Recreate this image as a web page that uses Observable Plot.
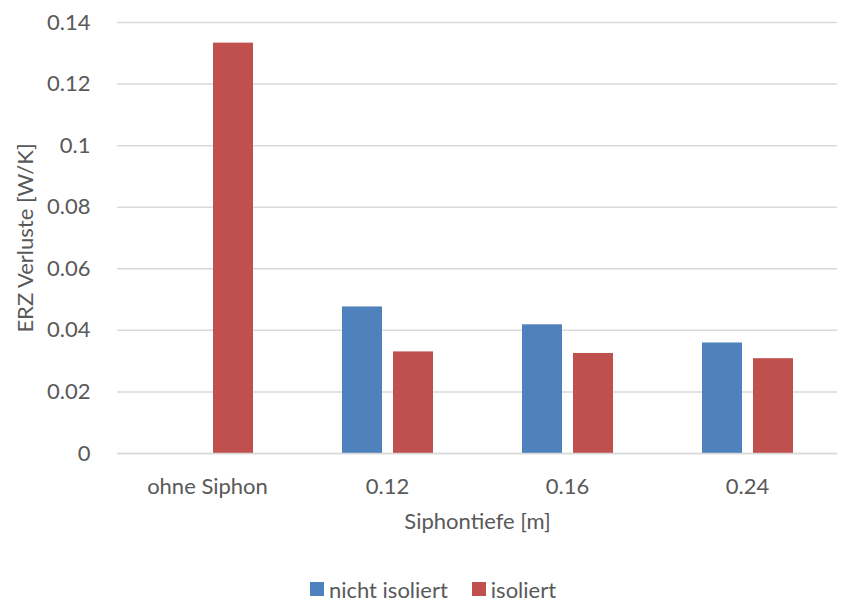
<!DOCTYPE html>
<html>
<head>
<meta charset="utf-8">
<script src="https://cdn.jsdelivr.net/npm/d3@7"></script>
<script src="https://cdn.jsdelivr.net/npm/@observablehq/plot@0.6"></script>
<style>
  body { margin: 0; background: #fff; font-family: Lato, sans-serif; }
  #legend { display: flex; justify-content: center; align-items: center; gap: 24px; height: 34px; font-size: 22px; color: #595959; padding-left: 22px; }
  #legend .item { display: flex; align-items: center; gap: 5px; }
  #legend .sw { width: 14px; height: 14px; display: inline-block; }
</style>
</head>
<body>
<div id="chart"></div>
<div id="legend"></div>
<script>
const categories = ["ohne Siphon", "0.12", "0.16", "0.24"];
const seriesNames = ["nicht isoliert", "isoliert"];
const nichtIsoliert = [null, 0.0476, 0.0418, 0.0359];
const isoliert = [0.1333, 0.0330, 0.0325, 0.0308];
const seriesColors = ["#4F81BD", "#C0504D"];
const yTicks = [0, 0.02, 0.04, 0.06, 0.08, 0.1, 0.12, 0.14];

const rows = [];
categories.forEach((c, i) => {
  if (nichtIsoliert[i] != null) rows.push({cat: c, series: seriesNames[0], value: nichtIsoliert[i]});
  if (isoliert[i] != null) rows.push({cat: c, series: seriesNames[1], value: isoliert[i]});
});

const grid = "#d9d9d9";
const plot = Plot.plot({
  width: 844,
  height: 572,
  marginTop: 22,
  marginBottom: 119,
  marginLeft: 116,
  marginRight: 7,
  style: {fontFamily: "Lato, sans-serif", fontSize: "22px", color: "#595959", background: "#fff"},
  fx: {domain: categories, paddingInner: 0, paddingOuter: 0},
  x: {domain: seriesNames, paddingInner: 0.2157, paddingOuter: 0.872, axis: null},
  y: {domain: [0, 0.14]},
  color: {domain: seriesNames, range: seriesColors},
  marks: [
    Plot.gridY(yTicks, {stroke: grid, strokeOpacity: 1, strokeWidth: 1.5}),
    Plot.barY(rows, {fx: "cat", x: "series", y: "value", fill: "series"}),
    Plot.ruleY([0], {stroke: grid, strokeWidth: 1.5}),
    Plot.axisY(yTicks, {
      tickSize: 0, tickPadding: 27,
      tickFormat: d => String(+d.toFixed(2)),
      label: "ERZ Verluste [W/K]", labelAnchor: "center", labelArrow: "none", labelOffset: 100
    }),
    Plot.axisFx({
      anchor: "bottom", tickSize: 0, tickPadding: 25,
      label: "Siphontiefe [m]", labelAnchor: "center", labelArrow: "none", labelOffset: 75
    })
  ]
});
document.getElementById("chart").appendChild(plot);

const legend = document.getElementById("legend");
seriesNames.forEach((s, i) => {
  const item = document.createElement("span");
  item.className = "item";
  const sw = document.createElement("span");
  sw.className = "sw";
  sw.style.background = seriesColors[i];
  item.appendChild(sw);
  item.appendChild(document.createTextNode(s));
  legend.appendChild(item);
});
</script>
</body>
</html>
